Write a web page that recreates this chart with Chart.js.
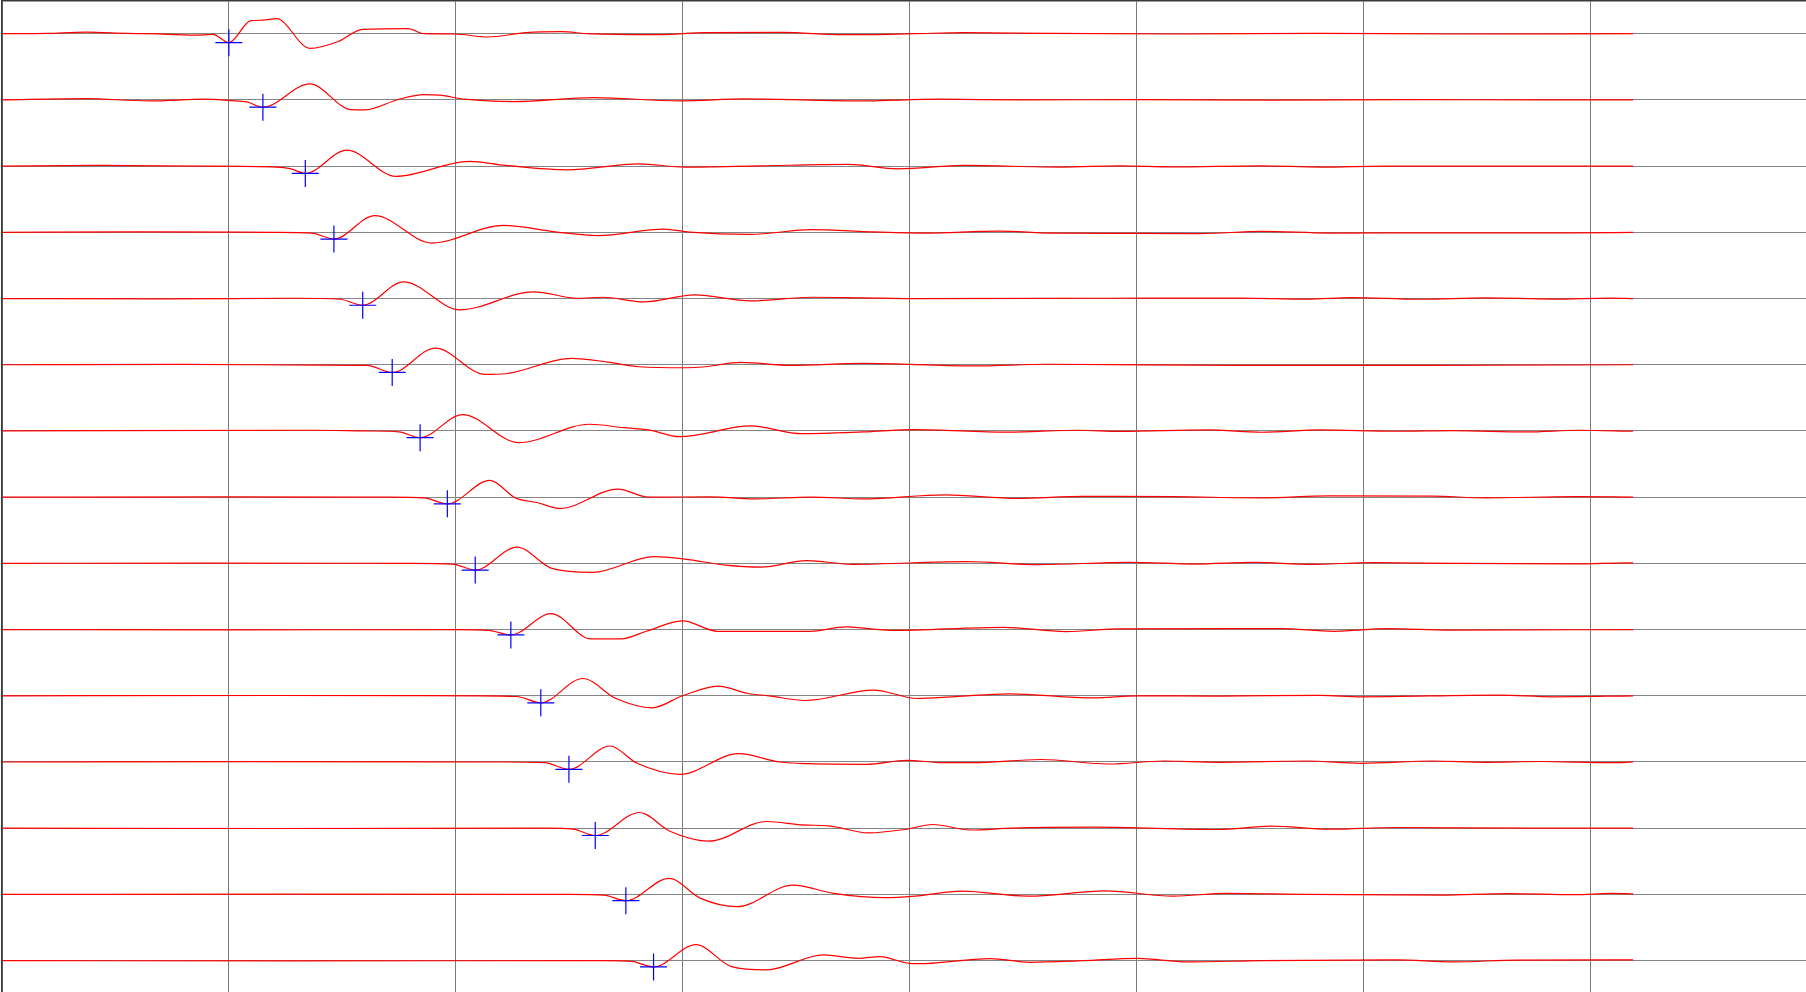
<!DOCTYPE html>
<html>
<head>
<meta charset="utf-8">
<script src="https://cdn.jsdelivr.net/npm/chart.js@4.4.1/dist/chart.umd.min.js"></script>
<style>
  html, body { margin: 0; padding: 0; background: #fff; }
  #wrap { width: 1806px; height: 992px; position: relative; }
</style>
</head>
<body>
<div id="wrap"><canvas id="traces"></canvas></div>
<script>
'use strict';
// time grid (vertical lines) and trace rows (horizontal lines)
var gridTimes = [0, 100, 200, 300, 400, 500, 600, 700];
var traceRows = [1, 2, 3, 4, 5, 6, 7, 8, 9, 10, 11, 12, 13, 14, 15];

// each trace: [time, amplitude]
var trace1 = [[0,0],[20,0.3],[37,1.5],[55,0.3],[65,0],[85,-1.5],[93,-0.7],[100,-9],[109.7,13],[115,13.5],[121,15],[135.7,-14.6],[148,-8],[159,4.4],[179,5],[186,0],[199.6,-0.3],[214,-3.3],[231,1],[246.8,2],[258,0],[289.5,-1],[310,1],[344,1.3],[370.7,-1],[402,0],[424,1],[460,0.3],[520,-0.3],[580,0.3],[640,-0.3],[719,0]];
var trace2 = [[0,0],[36.5,1.3],[65,-1],[90,0.7],[100.8,-0.7],[108,-2],[115,-7.3],[135.7,16],[154,-9.8],[160,-10],[175,0.7],[186,5.3],[193,4.7],[204,0.7],[225.6,-1.7],[260.4,2.3],[298.8,-1],[328,1],[377,-1],[413.5,0.7],[450,0],[500,0.3],[560,-0.3],[620,0.3],[680,0],[719,0]];
var trace3 = [[0,0],[43,0.7],[87,0],[121,-1],[127,-2.5],[133.7,-7.3],[152,16],[173.6,-10.3],[206,4.7],[222,0.7],[249,-3.7],[280.7,2.3],[301,-1],[334.5,0.3],[373,1.7],[395,-2.7],[424,0.7],[467,-1],[493,0.3],[516,-0.7],[555,0.3],[581,-1],[610,0],[719,0]];
var trace4 = [[0,0],[60,0.5],[120,0],[136.5,-0.7],[146.3,-6.7],[164.3,16.7],[189.5,-10.7],[221,7],[244.6,0.3],[262.6,-3.3],[291.8,3.3],[303,0.3],[330,-2],[357,2.7],[379.5,0.7],[406.6,-0.7],[439.4,1.3],[463.3,-0.7],[528,-1.3],[555.4,1],[585,-0.7],[634,-0.5],[693,-0.5],[719,0]];
var trace5 = [[0,0],[70,-0.3],[130,0.3],[149,-0.7],[159,-6.7],[177,16.7],[201.8,-11.3],[234.4,6.7],[253.8,0.3],[264.8,1.3],[283,-3.3],[305.4,3.7],[330,-2.3],[357,1.3],[379.5,0.7],[402,0],[486.6,0.3],[545.7,0.5],[575.3,-0.5],[595,1],[624.6,-0.7],[654.2,0.7],[683.7,-0.5],[709.3,0.5],[719,0]];
var trace6 = [[0,0],[80,0.3],[140,-0.3],[161,-0.7],[172,-7.7],[191,16.7],[213,-9.7],[222,-9],[251,6.3],[267,2.7],[280.7,-2],[301,-3],[309.8,-2],[325.7,2.3],[348,-0.7],[379.5,1.3],[428,-1.2],[461,0.5],[545.7,-0.7],[624.6,-0.7],[719,0]];
var trace7 = [[0,0],[138,0.7],[160,0],[175,-1],[184.3,-6.7],[203,16.3],[227.8,-11.7],[259,6.7],[274,3.3],[285,1],[298.8,-5.7],[330,5],[352.6,-2.7],[379.5,-1],[402,1.3],[443,-1.2],[474.7,0.7],[492.8,-0.5],[532,1],[555.4,-1.3],[581,1],[614.5,-0.3],[640.1,0.3],[671.8,-1],[695.2,0.7],[719,-0.3]];
var trace8 = [[0,0],[100,0.3],[170,0],[186,-0.7],[196.3,-6.7],[215,16.7],[226.5,-1],[235.8,-5.3],[246,-11.3],[271.5,8],[285,0],[312,0.3],[332,-1.7],[357,0],[379.5,-1.7],[415.6,2.3],[447.4,-1.3],[476.9,0.7],[516,0.5],[555.4,-0.7],[585,1.3],[630.4,1],[654.2,-0.7],[693.4,0.5],[719,0]];
var trace9 = [[0,0],[90,0.3],[180,0],[198.5,-0.7],[208.6,-6.7],[227,16.3],[242.4,-5],[260.4,-9],[287.3,6.7],[301,4.3],[319,-1.7],[334.5,-3.7],[354.8,2.7],[375,-1],[425,1.7],[457,-1.3],[496.6,1],[526,-0.7],[551.7,1],[577.3,-1],[604.8,0.7],[641,0],[693.4,-0.5],[717,0.5],[719,0.5]];
var trace10 = [[0,0],[100,-0.3],[200,0],[214.6,-0.7],[224.3,-5.3],[242,16],[259.6,-9.3],[272.8,-9.3],[284,-1.7],[300,8.7],[315.6,-1.7],[356,-1.7],[372,2.7],[392,-0.7],[441.7,2.3],[469,-2],[492.6,0.7],[563.4,1],[587.2,-1.7],[610.8,1],[638.3,-0.5],[719,0]];
var trace11 = [[0,0],[120,0.3],[210,0],[227,-0.7],[237.5,-7],[256,17.3],[270.6,-2.7],[286.5,-12],[300,0],[315.6,9.7],[329,2.3],[338,0],[354,-4.7],[384.3,5.7],[403.3,-2.7],[420,-0.8],[444,2],[480.9,-2],[500.5,0],[536,-0.3],[581,0.5],[599,-1],[659.9,0.7],[683.6,-1],[719,0]];
var trace12 = [[0,0],[110,0.3],[220,0],[239.3,-0.7],[249.9,-7.3],[268,16],[279.7,-1],[298.8,-12.3],[324.7,8.3],[342.9,0],[356,-1.7],[380.8,-2.3],[398.9,1.7],[414.8,-0.7],[427.6,-0.7],[458,2.5],[488,-2],[512.2,1],[536,-0.3],[575.3,1],[599,-1.3],[630.4,1],[654.2,-0.3],[677.6,0.5],[709.3,-0.7],[719,0]];
var trace13 = [[0,0],[120,-0.3],[240,0],[251.8,-1],[261.5,-7.3],[281,15.7],[294.4,-3],[311.6,-13],[337,6.7],[353,3.3],[364.5,2.3],[382,-4.7],[398,-1.3],[410.3,3.7],[427,-1.8],[445,0],[482,1],[536,-1.3],[559.4,2],[585,-1],[614.5,0.7],[673.6,0],[719,0]];
var trace14 = [[0,0],[130,0.3],[250,0],[265.3,-0.7],[275,-6.3],[294,16],[308,-4],[324,-12.3],[348.6,9.3],[366.7,1],[389,-3.3],[402.4,-1.7],[423,3.2],[452,-1.8],[486.6,3.5],[516.2,-1.7],[540,1],[575.3,0],[634.3,-0.7],[663.9,0.7],[693.4,-0.3],[709.3,1],[719,0.5]];
var trace15 = [[0,0],[130,-0.3],[265,0],[277.6,-0.7],[287.2,-6.3],[305.9,16],[321.6,-6],[337,-9.3],[362,5.7],[377.7,2.3],[387,4],[400,-2.7],[407,-3],[417.9,-1],[435.5,2],[453.1,-1.7],[476.9,0],[500.5,2.3],[522.2,-1.3],[555.4,0],[614.5,0.7],[640.1,-1.3],[667.8,0.5],[719,0.7]];

// first-arrival picks (blue crosses)
var pickTimes = [100, 115, 133.7, 146.3, 159, 172, 184.3, 196.3, 208.6, 224.3, 237.5, 249.9, 261.5, 275, 287.2];
var pickAmps = [-9, -7.3, -7.3, -6.7, -6.7, -7.7, -6.7, -6.7, -6.7, -5.3, -7, -7.3, -7.3, -6.3, -6.3];

var traces = [trace1, trace2, trace3, trace4, trace5, trace6, trace7, trace8,
              trace9, trace10, trace11, trace12, trace13, trace14, trace15];

// amplitude units per trace spacing
var ampScale = 66.2;

var datasets = traces.map(function(tr, i) {
  return {
    type: 'line',
    label: 'trace ' + traceRows[i],
    data: tr.map(function(p) { return { x: p[0], y: traceRows[i] - p[1] / ampScale }; }),
    borderColor: '#ff0000',
    borderWidth: 1.2,
    pointRadius: 0,
    cubicInterpolationMode: 'monotone',
    fill: false,
    order: 1,
  };
});

datasets.push({
  type: 'scatter',
  label: 'picks',
  data: pickTimes.map(function(t, i) { return { x: t, y: traceRows[i] - pickAmps[i] / ampScale }; }),
  pointStyle: 'cross',
  pointRadius: 13.5,
  pointBorderColor: '#0000ff',
  pointBorderWidth: 1.2,
  pointBackgroundColor: '#0000ff',
  showLine: false,
  order: 0,
});

var canvas = document.getElementById('traces');
var config = {
  type: 'line',
  data: { datasets: datasets },
  options: {
    responsive: true,
    maintainAspectRatio: false,
    animation: false,
    devicePixelRatio: 1,
    layout: { autoPadding: false, padding: { left: 2, top: 1, right: 0, bottom: 0 } },
    plugins: {
      legend: { display: false },
      tooltip: { enabled: false },
    },
    scales: {
      x: {
        type: 'linear',
        position: 'top',
        min: 0,
        max: 795.2,
        afterBuildTicks: function(axis) { axis.ticks = gridTimes.map(function(v) { return { value: v }; }); },
        ticks: { display: false },
        grid: { color: '#7a7a7a', lineWidth: 1, drawTicks: false },
        border: { display: true, color: '#3a3a3a', width: 1.5 },
      },
      y: {
        type: 'linear',
        reverse: true,
        min: 0.506,
        max: 15.474,
        afterBuildTicks: function(axis) { axis.ticks = traceRows.map(function(v) { return { value: v }; }); },
        ticks: { display: false },
        grid: { color: '#858585', lineWidth: 1, drawTicks: false },
        border: { display: true, color: '#3a3a3a', width: 1.5 },
      },
    },
  },
};

window.chart = new Chart(canvas, config);
</script>
</body>
</html>
